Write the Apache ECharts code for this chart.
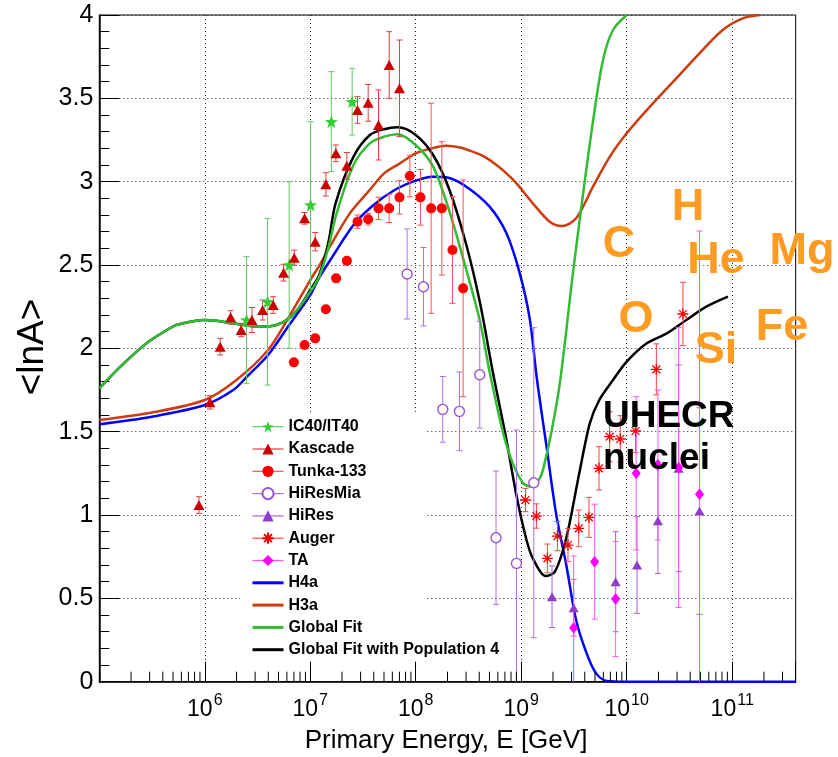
<!DOCTYPE html>
<html><head><meta charset="utf-8">
<script src="https://cdn.jsdelivr.net/npm/echarts@6/dist/echarts.min.js"></script>
<style>html,body{margin:0;padding:0;background:#fff}#c{width:838px;height:757px}</style>
</head><body><div id="c"></div>
<script>
// x values: log10(E / GeV); y values: <lnA>
const ic40X = [6.396, 6.595, 6.80, 7.003, 7.20, 7.397];
const ic40Y = [2.17, 2.28, 2.50, 2.86, 3.36, 3.48];
const ic40Err = [0.38, 0.50, 0.50, 0.50, 0.30, 0.20];

const kascadeX = [5.945, 6.049, 6.146, 6.245, 6.345, 6.447, 6.548, 6.649, 6.747, 6.848, 6.946, 7.047, 7.148, 7.243, 7.347, 7.448, 7.549, 7.647, 7.748, 7.846];
const kascadeY = [1.06, 1.676, 2.01, 2.186, 2.11, 2.17, 2.23, 2.26, 2.454, 2.544, 2.78, 2.64, 2.984, 3.17, 3.095, 3.43, 3.473, 3.34, 3.70, 3.56];
const kascadeErr = [0.05, 0.04, 0.05, 0.04, 0.04, 0.075, 0.06, 0.05, 0.05, 0.045, 0.035, 0.055, 0.07, 0.05, 0.08, 0.08, 0.11, 0.21, 0.20, 0.29];

const tunkaX = [6.845, 6.946, 7.047, 7.148, 7.245, 7.347, 7.448, 7.549, 7.647, 7.748, 7.846, 7.944, 8.045, 8.146, 8.247, 8.348, 8.449];
const tunkaY = [1.916, 2.02, 2.06, 2.235, 2.42, 2.525, 2.76, 2.775, 2.84, 2.84, 2.906, 3.034, 2.906, 2.84, 2.84, 2.59, 2.36];
const tunkaErr = [0, 0, 0, 0, 0, 0, 0.04, 0.035, 0.067, 0.085, 0.10, 0.125, 0.167, 0.63, 0.40, 0.32, 0.65];

const hiresMiaX = [7.918, 8.073, 8.256, 8.414, 8.607, 8.761, 8.955, 9.119];
const hiresMiaY = [2.446, 2.37, 1.634, 1.622, 1.842, 0.864, 0.71, 1.194];
const hiresMiaErr = [0.27, 0.235, 0.197, 0.236, 0.32, 0.40, 0.80, 0.93];

const hiresX = [9.292, 9.497, 9.895, 10.098, 10.296, 10.492, 10.69];
const hiresY = [0.51, 0.444, 0.60, 0.70, 0.966, 1.28, 1.024];
const hiresErr = [0.185, 0.17, 0.30, 0.29, 0.317, 0.62, 0.62];

const augerX = [9.04, 9.144, 9.248, 9.343, 9.443, 9.545, 9.642, 9.737, 9.838, 9.939, 10.084, 10.281, 10.533];
const augerY = [1.09, 0.994, 0.74, 0.874, 0.82, 0.92, 0.986, 1.28, 1.47, 1.456, 1.504, 1.874, 2.206];
const augerErr = [0.07, 0.073, 0.086, 0.088, 0.10, 0.11, 0.12, 0.13, 0.15, 0.14, 0.13, 0.153, 0.19];

const taX = [9.497, 9.696, 9.895, 10.09, 10.296, 10.492, 10.69];
const taY = [0.324, 0.72, 0.496, 1.25, 1.30, 1.285, 1.124];
const taErr = [0.43, 0.345, 0.345, 0.46, 0.45, 0.84, 1.58];

const h4aX = [5.0, 5.5, 6.0, 6.27, 6.4, 6.6, 6.8, 7.0, 7.09, 7.2, 7.41, 7.6, 7.8, 8.0, 8.16, 8.3, 8.48, 8.70, 8.86, 8.986, 9.08, 9.15, 9.24, 9.33, 9.43, 9.52, 9.62, 9.71, 9.81, 10.0, 10.5, 11.0, 11.602];
const h4aY = [1.545, 1.59, 1.66, 1.75, 1.83, 1.96, 2.14, 2.32, 2.43, 2.54, 2.74, 2.86, 2.95, 3.006, 3.03, 3.025, 2.97, 2.85, 2.69, 2.45, 2.18, 1.81, 1.41, 1.01, 0.69, 0.37, 0.17, 0.05, 0.005, 0, 0, 0, 0];

const h3aX = [5.0, 5.5, 6.0, 6.3, 6.6, 6.8, 7.0, 7.09, 7.185, 7.375, 7.55, 7.7, 7.85, 8.0, 8.15, 8.29, 8.42, 8.54, 8.65, 8.765, 8.86, 8.955, 9.11, 9.27, 9.387, 9.52, 9.68, 9.84, 10.0, 10.22, 10.47, 10.69, 10.91, 11.10, 11.26];
const h3aY = [1.57, 1.615, 1.69, 1.81, 1.99, 2.19, 2.41, 2.50, 2.61, 2.81, 2.94, 3.05, 3.11, 3.17, 3.20, 3.215, 3.205, 3.18, 3.15, 3.10, 3.05, 2.99, 2.87, 2.76, 2.734, 2.78, 2.97, 3.15, 3.29, 3.45, 3.62, 3.77, 3.91, 3.98, 4.0];

const globalX = [5.0, 5.2, 5.38, 5.48, 5.64, 5.73, 5.89, 6.0, 6.11, 6.27, 6.52, 6.68, 6.81, 6.9, 7.0, 7.085, 7.17, 7.25, 7.41, 7.565, 7.7, 7.83, 8.0, 8.165, 8.33, 8.48, 8.61, 8.70, 8.83, 8.92, 9.02, 9.10, 9.175, 9.21, 9.29, 9.37, 9.49, 9.585, 9.68, 9.775, 9.87, 10.0];
const globalY = [1.76, 1.89, 1.995, 2.045, 2.11, 2.14, 2.163, 2.17, 2.165, 2.15, 2.13, 2.14, 2.185, 2.25, 2.34, 2.43, 2.60, 2.81, 3.10, 3.23, 3.27, 3.285, 3.22, 3.09, 2.80, 2.47, 2.16, 1.86, 1.49, 1.31, 1.19, 1.17, 1.22, 1.28, 1.51, 1.81, 2.45, 2.92, 3.36, 3.73, 3.91, 4.0];

const pop4X = [5.0, 5.2, 5.38, 5.48, 5.64, 5.73, 5.89, 6.0, 6.11, 6.27, 6.52, 6.68, 6.81, 6.9, 7.0, 7.085, 7.17, 7.24, 7.41, 7.565, 7.7, 7.83, 8.0, 8.165, 8.32, 8.48, 8.61, 8.73, 8.80, 8.86, 8.96, 9.05, 9.11, 9.23, 9.32, 9.43, 9.55, 9.65, 9.74, 9.87, 10.0, 10.19, 10.38, 10.565, 10.755, 10.96];
const pop4Y = [1.76, 1.89, 1.995, 2.045, 2.11, 2.14, 2.163, 2.17, 2.165, 2.15, 2.13, 2.14, 2.185, 2.25, 2.35, 2.44, 2.63, 2.87, 3.15, 3.28, 3.315, 3.326, 3.28, 3.16, 2.95, 2.62, 2.27, 1.86, 1.64, 1.45, 1.10, 0.85, 0.74, 0.634, 0.66, 0.87, 1.25, 1.55, 1.69, 1.81, 1.92, 2.03, 2.09, 2.17, 2.25, 2.31];

const xTickExponents = [6, 7, 8, 9, 10, 11];

const FONT = '"Liberation Sans", Arial, Helvetica, sans-serif';
const X_MIN = 5, X_MAX = 11.602;

// minor tick positions at k*10^n (axis decoration)
const minorTickX = [];
for (let n = 5; n <= 11; n++) for (let k = 2; k <= 9; k++) {
  const v = n + Math.log10(k);
  if (v < X_MAX) minorTickX.push([v, 0]);
}

const pts = (xs, ys) => xs.map((x, i) => [x, ys[i]]);
const errPts = (xs, ys, es) => xs.map((x, i) => [x, ys[i], es[i]]);

function errSeries(id, xs, ys, es, color, cap) {
  return {
    type: 'custom', id, name: id, z: 4, clip: true, silent: true,
    data: errPts(xs, ys, es),
    renderItem(params, api) {
      const x = api.value(0), y = api.value(1), e = api.value(2);
      if (!(e > 0)) return { type: 'group', children: [] };
      const t = api.coord([x, y + e]), b = api.coord([x, y - e]);
      const st = { stroke: color, lineWidth: 1 };
      return { type: 'group', children: [
        { type: 'line', shape: { x1: t[0], y1: t[1], x2: b[0], y2: b[1] }, style: st },
        { type: 'line', shape: { x1: t[0] - cap, y1: t[1], x2: t[0] + cap, y2: t[1] }, style: st },
        { type: 'line', shape: { x1: b[0] - cap, y1: b[1], x2: b[0] + cap, y2: b[1] }, style: st }
      ]};
    }
  };
}

function dataSeries(name, xs, ys, symbol, size, itemStyle) {
  return {
    type: 'line', name, data: pts(xs, ys), symbol, symbolSize: size,
    showSymbol: true, showAllSymbol: true, z: 5,
    lineStyle: { opacity: 0, width: 1 }, itemStyle,
    emphasis: { disabled: true }
  };
}

function curveSeries(name, xs, ys, color, z) {
  return {
    type: 'line', name, data: pts(xs, ys), showSymbol: false, symbol: 'none',
    smooth: 0.3, z, lineStyle: { color, width: 2.5 }, itemStyle: { color },
    emphasis: { disabled: true }
  };
}

const STAR = 'path://M0,-10L2.35,-3.24L9.51,-3.09L3.8,1.24L5.88,8.09L0,4L-5.88,8.09L-3.8,1.24L-9.51,-3.09L-2.35,-3.24Z';
const ASTER = 'path://M0,5L10,5M5,0L5,10M1.46,1.46L8.54,8.54M8.54,1.46L1.46,8.54';

const C = {
  ic40: '#33cc33', ic40e: '#5fcc5f',
  kas: '#cc0000', kase: '#dd4040',
  tun: '#ff0000', tune: '#ff5050',
  mia: '#9d52d6', miae: '#ad70e0',
  hir: '#8f3cc8', hire: '#a762d8',
  aug: '#ff0000', auge: '#ff4545',
  ta: '#ff00ff', tae: '#ff55ff',
  h4a: '#0000ff', h3a: '#cc3c10', gf: '#33bb33', p4: '#000000'
};

const series = [
  curveSeries('H4a', h4aX, h4aY, C.h4a, 3),
  curveSeries('H3a', h3aX, h3aY, C.h3a, 3),
  curveSeries('Global Fit with Population 4', pop4X, pop4Y, C.p4, 3),
  curveSeries('Global Fit', globalX, globalY, C.gf, 3.5),
  errSeries('e_ic40', ic40X, ic40Y, ic40Err, C.ic40e, 3),
  errSeries('e_kas', kascadeX, kascadeY, kascadeErr, C.kase, 3),
  errSeries('e_tun', tunkaX, tunkaY, tunkaErr, C.tune, 3),
  errSeries('e_mia', hiresMiaX, hiresMiaY, hiresMiaErr, C.miae, 3),
  errSeries('e_hir', hiresX, hiresY, hiresErr, C.hire, 3),
  errSeries('e_aug', augerX, augerY, augerErr, C.auge, 3),
  errSeries('e_ta', taX, taY, taErr, C.tae, 3),
  dataSeries('IC40/IT40', ic40X, ic40Y, STAR, 13, { color: C.ic40 }),
  dataSeries('Kascade', kascadeX, kascadeY, 'triangle', [11, 10], { color: C.kas }),
  dataSeries('Tunka-133', tunkaX, tunkaY, 'circle', 10, { color: C.tun }),
  dataSeries('HiResMia', hiresMiaX, hiresMiaY, 'circle', 10, { color: '#ffffff', borderColor: C.mia, borderWidth: 1.4 }),
  dataSeries('HiRes', hiresX, hiresY, 'triangle', [10, 9], { color: C.hir }),
  dataSeries('Auger', augerX, augerY, ASTER, 11, { color: C.aug, borderColor: C.aug, borderWidth: 1.3 }),
  dataSeries('TA', taX, taY, 'diamond', [9, 12], { color: C.ta }),
  {
    type: 'custom', id: 'minorTicks', name: 'minorTicks', silent: true, clip: false, z: 6,
    data: minorTickX,
    renderItem(params, api) {
      const p = api.coord([api.value(0), 0]);
      return { type: 'line', shape: { x1: p[0], y1: p[1], x2: p[0], y2: p[1] - 10 }, style: { stroke: '#000', lineWidth: 1 } };
    }
  }
];

const legendNames = [
  ['IC40/IT40', C.ic40e], ['Kascade', C.kase], ['Tunka-133', C.tune], ['HiResMia', C.miae],
  ['HiRes', C.hire], ['Auger', C.auge], ['TA', C.tae]
];
const curveLegend = ['H4a', 'H3a', 'Global Fit', 'Global Fit with Population 4'];
const legendData = legendNames.map(([n, c]) => ({ name: n, lineStyle: { opacity: 1, width: 1.2, color: c } }))
  .concat(curveLegend.map(n => ({ name: n, itemStyle: { opacity: 0 }, lineStyle: { width: 3 } })));

const orange = '#ff9b22';
const elem = (text, x, y, size, fill, align) => ({
  type: 'text', x, y, z: 20, silent: true,
  style: { text, font: 'bold ' + size + 'px ' + FONT, fill, textAlign: align || 'center', textVerticalAlign: 'middle' }
});

const option = {
  animation: false,
  backgroundColor: '#ffffff',
  grid: { left: 99.3, right: 42.3, top: 15, bottom: 75.3, show: true, borderColor: '#000', borderWidth: 1, backgroundColor: 'transparent', outerBoundsMode: 'none' },
  xAxis: {
    type: 'value', min: X_MIN, max: X_MAX, interval: 1,
    axisLine: { show: true, lineStyle: { color: '#000', width: 1.5 } },
    axisTick: { show: true, inside: true, length: 20, lineStyle: { color: '#000', width: 1 } },
    splitLine: { show: true, lineStyle: { color: '#222', type: [1, 3], width: 1 } },
    axisLabel: {
      margin: 9, color: '#000',
      formatter: v => (Number.isInteger(v) && xTickExponents.indexOf(v) >= 0) ? '{b|10}{s|' + v + '}' : '',
      rich: {
        b: { fontSize: 23, fontFamily: FONT, color: '#000', verticalAlign: 'bottom', lineHeight: 30 },
        s: { fontSize: 16, fontFamily: FONT, color: '#000', verticalAlign: 'top', lineHeight: 16, padding: [2, 0, 0, 1] }
      }
    }
  },
  yAxis: {
    type: 'value', min: 0, max: 4, interval: 0.5,
    axisLine: { show: true, lineStyle: { color: '#000', width: 1.5 } },
    axisTick: { show: true, inside: true, length: 20, lineStyle: { color: '#000', width: 1 } },
    minorTick: { show: true, splitNumber: 5, length: 10, lineStyle: { color: '#000', width: 1 } },
    splitLine: { show: true, lineStyle: { color: '#222', type: [1, 3], width: 1 } },
    axisLabel: { fontSize: 25, fontFamily: FONT, color: '#000', margin: 6 }
  },
  legend: {
    orient: 'vertical', left: 251, top: 418.7, padding: 0,
    itemWidth: 31, itemHeight: 14, itemGap: 6.3, selectedMode: false,
    textStyle: { fontSize: 16, fontWeight: 'bold', fontFamily: FONT, color: '#000', lineHeight: 16 },
    data: legendData
  },
  graphic: [
    { type: 'rect', z: 1, silent: true, shape: { x: 240, y: 413, width: 185, height: 248 }, style: { fill: '#ffffff' } },
    elem('C', 619, 245, 45, orange),
    elem('H', 688, 208, 45, orange),
    elem('He', 716, 261, 45, orange),
    elem('Mg', 802, 252, 45, orange),
    elem('O', 636, 320, 45, orange),
    elem('Si', 716, 351, 45, orange),
    elem('Fe', 782, 328, 45, orange),
    elem('UHECR', 603, 417, 37, '#000', 'left'),
    elem('nuclei', 603, 459, 37, '#000', 'left'),
    { type: 'text', x: 446, y: 741, z: 20, silent: true,
      style: { text: 'Primary Energy, E [GeV]', font: '26px ' + FONT, fill: '#000', textAlign: 'center', textVerticalAlign: 'middle' } },
    { type: 'text', x: 33, y: 347, rotation: Math.PI / 2, z: 20, silent: true,
      style: { text: '<lnA>', font: '37px ' + FONT, fill: '#000', textAlign: 'center', textVerticalAlign: 'middle' } }
  ],
  series
};

const chart = echarts.init(document.getElementById('c'), null, { renderer: 'canvas' });
chart.setOption(option);
</script>
</body></html>
